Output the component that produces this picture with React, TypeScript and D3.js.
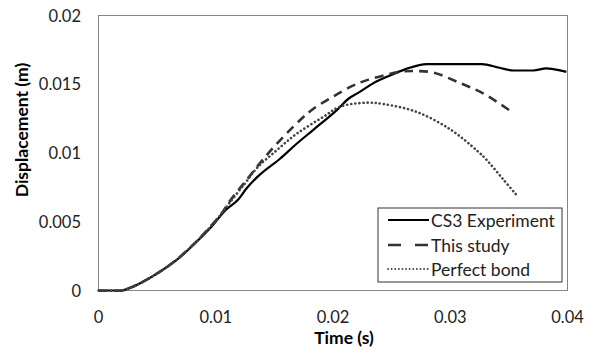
import React from "react";
import * as d3 from "d3";

const xTicks = [0, 0.01, 0.02, 0.03, 0.04];
const yTicks = [0, 0.005, 0.01, 0.015, 0.02];
const yTickLabels = ["0", "0.005", "0.01", "0.015", "0.02"];
const xTickLabels = ["0", "0.01", "0.02", "0.03", "0.04"];

const experiment: [number, number][] = [
  [0, 0], [0.002, 0], [0.0024, 0.0001], [0.003, 0.0003], [0.0038, 0.00064],
  [0.00525, 0.00137], [0.00667, 0.00222], [0.00809, 0.00331], [0.00951, 0.00452],
  [0.0109, 0.0059], [0.0119, 0.0066], [0.0126, 0.0074], [0.0136, 0.0083],
  [0.0155, 0.0096], [0.0168, 0.0106], [0.0183, 0.01167], [0.0203, 0.0131],
  [0.0214, 0.014], [0.022, 0.0143], [0.0237, 0.0152], [0.0246, 0.01555],
  [0.0262, 0.0161], [0.028, 0.01647], [0.0327, 0.01647], [0.0342, 0.0162],
  [0.0354, 0.016], [0.0371, 0.016], [0.0382, 0.01616], [0.0388, 0.0161], [0.0399, 0.0159],
];

const thisStudy: [number, number][] = [
  [0, 0], [0.002, 0], [0.0024, 0.0001], [0.003, 0.0003], [0.0038, 0.00064],
  [0.00525, 0.00137], [0.00667, 0.00225], [0.00809, 0.00335], [0.0095, 0.0046],
  [0.0105, 0.0056], [0.0112, 0.0065], [0.0125, 0.0079], [0.0146, 0.0101],
  [0.0172, 0.0124], [0.0183, 0.0132], [0.02, 0.0141], [0.0217, 0.0149],
  [0.0229, 0.0153], [0.0257, 0.0159], [0.0271, 0.01596], [0.0286, 0.01584],
  [0.0308, 0.0151], [0.0328, 0.01434], [0.0354, 0.0129],
];

const perfectBond: [number, number][] = [
  [0, 0], [0.002, 0], [0.0024, 0.0001], [0.003, 0.0003], [0.0038, 0.00064],
  [0.00525, 0.00137], [0.00667, 0.00224], [0.00809, 0.00334], [0.0095, 0.0046],
  [0.0105, 0.0056], [0.0112, 0.0064], [0.0125, 0.0078], [0.0135, 0.0089],
  [0.0152, 0.0102], [0.0169, 0.0114], [0.0192, 0.01264], [0.0206, 0.01337],
  [0.0229, 0.01366], [0.0243, 0.01356], [0.0271, 0.013], [0.03, 0.01172],
  [0.0323, 0.01016], [0.0331, 0.0095], [0.0345, 0.0081], [0.0357, 0.0069],
];

const legendLabels = ["CS3 Experiment", "This study", "Perfect bond"];

const FONT = "Lato, 'Open Sans', sans-serif";

export default function App() {
  const W = 597, H = 353;
  const x = d3.scaleLinear().domain([0, 0.04]).range([98.5, 567.5]);
  const y = d3.scaleLinear().domain([0, 0.02]).range([290.5, 15.5]);
  const mono = d3
    .line<[number, number]>()
    .x((d) => x(d[0]))
    .y((d) => y(d[1]))
    .curve(d3.curveMonotoneX);
  const smooth = d3
    .line<[number, number]>()
    .x((d) => x(d[0]))
    .y((d) => y(d[1]))
    .curve(d3.curveCatmullRom.alpha(0.5));

  const styles = [
    { stroke: "#000", width: 2.2, dash: undefined as string | undefined, cap: "butt" },
    { stroke: "#333", width: 2.6, dash: "9,6", cap: "butt" },
    { stroke: "#444", width: 2.6, dash: "0.1,4", cap: "round" },
  ];
  const series = [experiment, thisStudy, perfectBond];
  const gens = [mono, smooth, smooth];

  const lx = 378, ly = 208, lw = 184, lh = 74;
  const rows = [220, 245, 269];

  return (
    <svg width={W} height={H} style={{ position: "absolute", left: 0, top: 0 }}>
      <rect x={0} y={0} width={W} height={H} fill="#fff" />
      <rect
        x={x(0)}
        y={y(0.02)}
        width={x(0.04) - x(0)}
        height={y(0) - y(0.02)}
        fill="none"
        stroke="#868686"
        strokeWidth={1}
      />
      {series.map((s, i) => (
        <path
          key={i}
          d={gens[i](s) || ""}
          fill="none"
          stroke={styles[i].stroke}
          strokeWidth={styles[i].width}
          strokeDasharray={styles[i].dash}
          strokeLinecap={styles[i].cap as any}
          strokeLinejoin="round"
        />
      ))}
      {yTicks.map((t, i) => (
        <text
          key={"y" + i}
          x={81}
          y={y(t)}
          textAnchor="end"
          dominantBaseline="central"
          fontFamily={FONT}
          fontSize={16.5}
          fill="#222"
        >
          {yTickLabels[i]}
        </text>
      ))}
      {xTicks.map((t, i) => (
        <text
          key={"x" + i}
          x={x(t)}
          y={317}
          textAnchor="middle"
          dominantBaseline="central"
          fontFamily={FONT}
          fontSize={16.5}
          fill="#222"
        >
          {xTickLabels[i]}
        </text>
      ))}
      <text
        x={344}
        y={337}
        textAnchor="middle"
        dominantBaseline="central"
        fontFamily={FONT}
        fontSize={17.5}
        fontWeight="bold"
        fill="#000"
      >
        Time (s)
      </text>
      <text
        transform={`translate(21.5,130) rotate(-90)`}
        textAnchor="middle"
        dominantBaseline="central"
        fontFamily={FONT}
        fontSize={17.5}
        fontWeight="bold"
        fill="#000"
      >
        Displacement (m)
      </text>
      <rect x={lx} y={ly} width={lw} height={lh} fill="#fff" stroke="#333" strokeWidth={1} />
      {legendLabels.map((lab, i) => (
        <g key={"l" + i}>
          <line
            x1={388}
            x2={429}
            y1={rows[i]}
            y2={rows[i]}
            stroke={styles[i].stroke}
            strokeWidth={i === 2 ? 1.8 : styles[i].width}
            strokeDasharray={i === 1 ? "13,14" : i === 2 ? "0.1,3.5" : undefined}
            strokeLinecap={styles[i].cap as any}
          />
          <text
            x={431}
            y={rows[i]}
            dominantBaseline="central"
            fontFamily={FONT}
            fontSize={17.5}
            fill="#222"
          >
            {lab}
          </text>
        </g>
      ))}
    </svg>
  );
}
